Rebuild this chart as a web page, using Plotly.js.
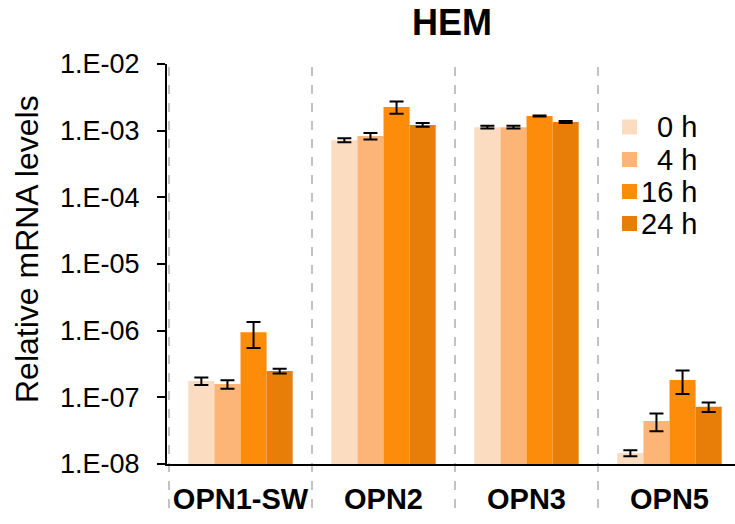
<!DOCTYPE html>
<html><head><meta charset="utf-8">
<script src="https://cdn.plot.ly/plotly-3.0.1.min.js"></script>
<style>html,body{margin:0;padding:0;background:#fff}#chart{width:735px;height:524px}</style>
</head><body><div id="chart"></div>
<script>
const categories = ["OPN1-SW", "OPN2", "OPN3", "OPN5"];
const seriesNames = ["0 h", "4 h", "16 h", "24 h"];
const v0h  = [1.76e-7, 7.2e-4, 1.13e-3, 1.46e-8];
const v4h  = [1.58e-7, 8.3e-4, 1.13e-3, 4.4e-8];
const v16h = [9.5e-7, 2.26e-3, 1.66e-3, 1.82e-7];
const v24h = [2.48e-7, 1.22e-3, 1.35e-3, 7.2e-8];
const e0h  = [2.3e-8, 5e-5, 5e-5, 1.5e-9];
const e4h  = [2.3e-8, 9e-5, 5e-5, 1.3e-8];
const e16h = [4.0e-7, 4.7e-4, 3e-5, 7e-8];
const e24h = [2.0e-8, 8e-5, 5e-5, 1.2e-8];
const colors = ["#FCDCC1", "#FDB577", "#FD8C0B", "#E87E08"];
const yTickVals = [1e-8, 1e-7, 1e-6, 1e-5, 1e-4, 1e-3, 1e-2];
const yTickText = ["1.E-08", "1.E-07", "1.E-06", "1.E-05", "1.E-04", "1.E-03", "1.E-02"];
const yTitle = "Relative mRNA levels";
const chartTitle = "HEM";

const values = [v0h, v4h, v16h, v24h];
const errors = [e0h, e4h, e16h, e24h];
const xIdx = categories.map((c, i) => i);

const traces = values.map((v, k) => ({
  type: "bar",
  name: seriesNames[k],
  x: xIdx,
  y: v,
  showlegend: false,
  marker: {color: colors[k], line: {width: 0}},
  error_y: {type: "data", array: errors[k], visible: true, color: "#000", thickness: 2, width: 7}
}));

// plot area: left 167, width 568, top 64, height 400
const PL = 167, PW = 568, PT = 64, PH = 400;
const px = x => (x - PL) / PW;
const py = y => (PT + PH - y) / PH;

const shapes = [-0.5, 0.5, 1.5, 2.5].map(s => ({
  type: "line", xref: "x", yref: "paper", x0: s, x1: s, y0: -0.11, y1: 1,
  line: {color: "#9a9a9a", width: 1.2, dash: "dash"}, layer: "below"
}));

// legend drawn as squares + right-aligned labels
const legRowY = [127, 159.5, 191.5, 223.5];
const annotations = [];
seriesNames.forEach((n, k) => {
  shapes.push({type: "rect", xref: "paper", yref: "paper",
    x0: px(622), x1: px(637), y0: py(legRowY[k] + 7.5), y1: py(legRowY[k] - 7.5),
    fillcolor: colors[k], line: {width: 0}});
  annotations.push({xref: "paper", yref: "paper", x: px(699), y: py(legRowY[k]),
    xanchor: "right", yanchor: "middle", text: n, showarrow: false,
    font: {size: 29, color: "#000"}});
});
annotations.push({xref: "paper", yref: "paper", x: px(27), y: py(249),
  xanchor: "center", yanchor: "middle", textangle: -90, text: yTitle, showarrow: false,
  font: {size: 32, color: "#000"}});

const layout = {
  width: 735, height: 524,
  margin: {l: PL, r: 0, t: PT, b: 524 - PT - PH},
  paper_bgcolor: "#fff", plot_bgcolor: "#fff",
  font: {family: "Liberation Sans, Arial, sans-serif", color: "#000"},
  title: {text: "<b>" + chartTitle + "</b>", font: {size: 36, family: "Liberation Sans, Arial, sans-serif"}, x: 0.615, xanchor: "center", y: 0.958, yanchor: "middle"},
  barmode: "group", bargap: 0.27, bargroupgap: 0,
  showlegend: false,
  xaxis: {
    range: [-0.514, 3.458], tickvals: xIdx, ticktext: categories.map(c => "<b>" + c + "</b>"),
    tickfont: {size: 29}, ticklabelstandoff: 8, showline: true, linecolor: "#000", linewidth: 2,
    ticks: "", showgrid: false, zeroline: false, fixedrange: true
  },
  yaxis: {
    type: "log", range: [-8, -2], tickvals: yTickVals, ticktext: yTickText,
    tickfont: {size: 27}, ticks: "outside", ticklen: 8, tickwidth: 2, tickcolor: "#000",
    ticklabelstandoff: 12,
    showline: true, linecolor: "#000", linewidth: 2, showgrid: false, zeroline: false
  },
  shapes: shapes,
  annotations: annotations
};

Plotly.newPlot("chart", traces, layout, {displayModeBar: false, staticPlot: true});
</script></body></html>
